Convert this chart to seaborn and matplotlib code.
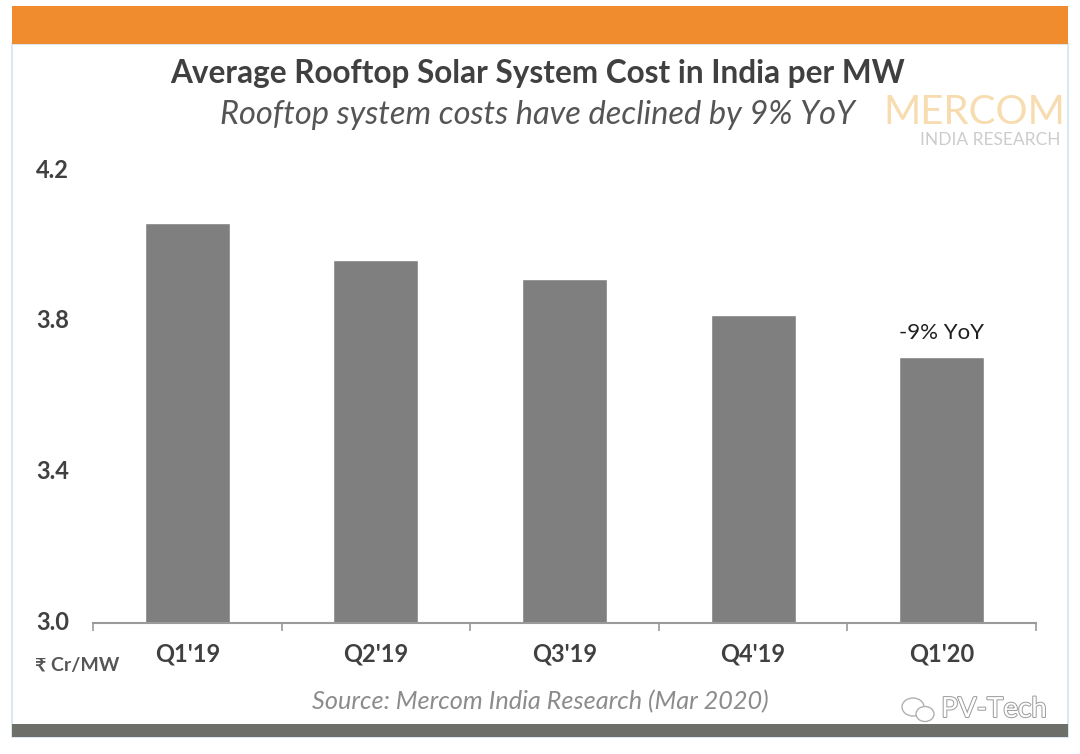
#!/usr/bin/env python3
"""Average rooftop solar system cost in India, bar chart on a banded slide"""

import matplotlib
matplotlib.use("Agg")
import matplotlib.pyplot as plt
import matplotlib.patches as patches
import matplotlib.patheffects as pe
import matplotlib.transforms as mtrans
import pandas as pd
import seaborn as sns

quarters = ["Q1'19", "Q2'19", "Q3'19", "Q4'19", "Q1'20"]
costs = [4.063, 3.965, 3.913, 3.817, 3.707]
y_ticks = [3.0, 3.4, 3.8, 4.2]

W, H = 1080, 754

sns.set_theme(style="white")
plt.rcParams["font.family"] = ["Lato", "DejaVu Sans"]

fig = plt.figure(figsize=(W / 100, H / 100), dpi=100, facecolor="white")


def fx(px):
    return px / W


def fy(py):
    return 1 - py / H


def label(px, py, s, **kw):
    fig.text(fx(px), fy(py), s, ha=kw.pop("ha", "center"), va=kw.pop("va", "center"), **kw)


# Slide frame and bands
fig.add_artist(patches.Rectangle((fx(12), fy(737)), fx(1056), 693 / H, transform=fig.transFigure,
                                 facecolor="white", edgecolor="#dbe8f2", linewidth=1.5))
fig.add_artist(patches.Rectangle((fx(12), fy(44)), fx(1056), 38 / H, transform=fig.transFigure,
                                 facecolor="#f08c2e", edgecolor="none"))
fig.add_artist(patches.Rectangle((fx(12), fy(737)), fx(1056), 13 / H, transform=fig.transFigure,
                                 facecolor="#6e6e68", edgecolor="none"))

# Plot area, 3.0 sits on y=623 and 4.2 on y=171
ax = fig.add_axes([fx(93), fy(623), fx(943), 452 / H])
ax.set_zorder(2)  # the frame patch would hide the axes otherwise
ax.patch.set_alpha(0)
df = pd.DataFrame({"quarter": quarters, "cost": costs})
sns.barplot(data=df, x="quarter", y="cost", color="#7f7f7f", saturation=1, width=0.45, ax=ax)

ax.set_xlim(-0.5, len(quarters) - 0.5)
ax.set_ylim(y_ticks[0], y_ticks[-1])
ax.set_xlabel("")
ax.set_ylabel("")
for side in ["top", "left", "right"]:
    ax.spines[side].set_visible(False)
ax.spines["bottom"].set_color("#9a9a9a")
ax.spines["bottom"].set_linewidth(1.5)

ax.set_xticks(range(len(quarters)))
ax.set_xticklabels(quarters, fontsize=17, fontweight="bold", color="#404040")
ax.set_xticks([i - 0.5 for i in range(len(quarters) + 1)], minor=True)
ax.tick_params(axis="x", which="major", length=0, pad=14)
ax.tick_params(axis="x", which="minor", length=6, width=1.2, color="#9a9a9a", bottom=True)

ax.set_yticks(y_ticks)
ax.set_yticklabels([f"{v:.1f}" for v in y_ticks], fontsize=17, fontweight="bold", color="#404040")
ax.tick_params(axis="y", length=0, pad=17)
# labels sit a little above their tick in the original
nudge = mtrans.ScaledTranslation(0, 3 / 100, fig.dpi_scale_trans)
for tick_label in ax.get_yticklabels():
    tick_label.set_transform(tick_label.get_transform() + nudge)

ax.annotate("-9% YoY", (4, costs[4]), xytext=(0, 10), textcoords="offset points",
            ha="center", va="bottom", fontsize=16, color="#1f1f1f")

# Titles
label(538, 73, "Average Rooftop Solar System Cost in India per MW",
      fontsize=22.7, fontweight="bold", color="#404040")
label(538, 115, "Rooftop system costs have declined by 9% YoY",
      fontsize=23.5, style="italic", color="#555555")

# Unit and source
label(77, 666, "₹ Cr/MW", fontsize=14, fontweight="bold", color="#555555")
label(540, 702, "Source: Mercom India Research (Mar 2020)",
      fontsize=18.2, style="italic", color="#8c8c8c")

# Logo
label(974, 113, "MERCOM", fontsize=29, color="#f7dcb0")
label(990, 140, "INDIA RESEARCH", fontsize=12.5, color="#cccccc")

# Watermark
outline = [pe.withStroke(linewidth=1.4, foreground="#9a9a9a")]
label(994, 709, "PV-Tech", fontsize=20, color="white", path_effects=outline)
for cx, cy, rx, ry in [(913, 707, 22, 18), (925, 714, 18, 15)]:
    fig.add_artist(patches.Ellipse((fx(cx), fy(cy)), rx / W, ry / H, transform=fig.transFigure,
                                   facecolor="white", edgecolor="#b0b0b0", linewidth=1))

fig.savefig("out.png", dpi=100, facecolor="white")
